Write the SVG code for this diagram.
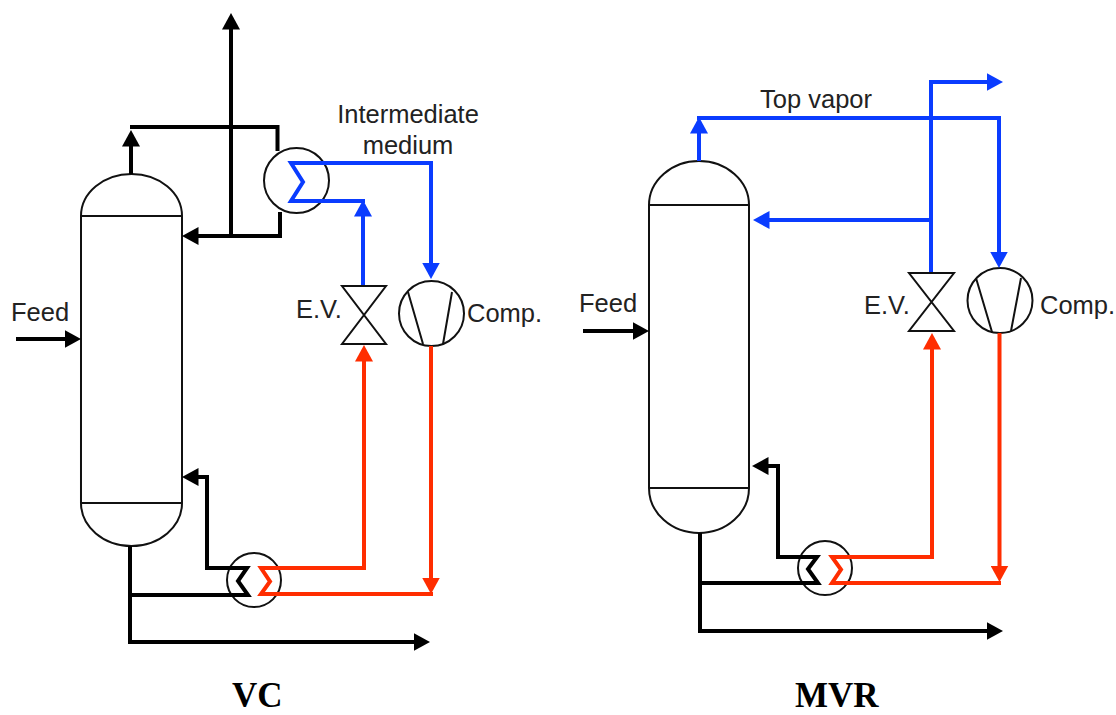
<svg xmlns="http://www.w3.org/2000/svg" width="1116" height="715" viewBox="0 0 1116 715">
<style>
.eq{fill:none;stroke:#111;stroke-width:2}
.p{fill:none;stroke-width:4;stroke-linejoin:miter;stroke-miterlimit:8;stroke-linecap:butt}
.k{stroke:#000}.b{stroke:#0a3cff}.r{stroke:#ff2d00}
.ka{marker-end:url(#ah-k)}.ba{marker-end:url(#ah-b)}.ra{marker-end:url(#ah-r)}
text{font-family:"Liberation Sans",Arial,sans-serif;font-size:25.500px;fill:#222}
.t{font-family:"Liberation Serif","Times New Roman",serif;font-size:35px;font-weight:bold;fill:#000}
</style>
<defs>
<marker id="ah-k" markerUnits="userSpaceOnUse" markerWidth="18" markerHeight="18" viewBox="0 0 18 18" refX="0.5" refY="9" orient="auto"><path d="M0 0L16.500 9L0 18z" fill="#000"/></marker>
<marker id="ah-b" markerUnits="userSpaceOnUse" markerWidth="18" markerHeight="18" viewBox="0 0 18 18" refX="0.5" refY="9" orient="auto"><path d="M0 0L16.500 9L0 18z" fill="#0a3cff"/></marker>
<marker id="ah-r" markerUnits="userSpaceOnUse" markerWidth="18" markerHeight="18" viewBox="0 0 18 18" refX="0.5" refY="9" orient="auto"><path d="M0 0L16.500 9L0 18z" fill="#ff2d00"/></marker>
</defs>
<rect width="1116" height="715" fill="#fff"/>

<g id="vc-column"><path class="eq" d="M81 216A50.500 42 0 0 1 182 216V503A50.500 43 0 0 1 81 503ZM81 216H182M81 503H182"/></g>
<g id="vc-condenser"><circle class="eq" cx="296.500" cy="180.500" r="32.500"/></g>
<g id="vc-reboiler"><circle class="eq" cx="254" cy="580" r="27"/></g>
<g id="vc-valve"><path class="eq" d="M342 286H386L342 344H386Z"/><text x="296" y="318">E.V.</text></g>
<g id="vc-compressor"><circle class="eq" cx="431.500" cy="313.500" r="32.500"/><path class="eq" d="M408 292L423 344M452 292L443 344"/><text x="467" y="322">Comp.</text></g>
<g id="vc-feed"><text x="11" y="321">Feed</text></g>
<g id="vc-medium"><text x="408" y="123" text-anchor="middle">Intermediate</text><text x="408" y="154" text-anchor="middle">medium</text></g>
<g id="vc-title"><text class="t" x="232" y="707">VC</text></g>

<g id="mvr-column"><path class="eq" d="M649 205A50 44 0 0 1 749 205V488A50 45 0 0 1 649 488ZM649 205H749M649 488H749"/></g>
<g id="mvr-reboiler"><circle class="eq" cx="825" cy="568" r="27"/></g>
<g id="mvr-valve"><path class="eq" d="M909 273H954L909 331H954Z"/><text x="864" y="314">E.V.</text></g>
<g id="mvr-compressor"><circle class="eq" cx="1000" cy="300.500" r="32.500"/><path class="eq" d="M976 278L992 332M1021 278L1011 331"/><text x="1040" y="314">Comp.</text></g>
<g id="mvr-feed"><text x="579" y="312">Feed</text></g>
<g id="mvr-topvapor"><text x="760" y="108">Top vapor</text></g>
<g id="mvr-title"><text class="t" x="795" y="707">MVR</text></g>

<g id="connectors">
<path class="p k ka" d="M131 174V146"/>
<path class="p k" d="M130 127H277.500V151"/>
<path class="p k ka" d="M280 212V236H198"/>
<path class="p k ka" d="M231 236V29"/>
<path class="p b" d="M433 163H291L303 182L291 201H365"/>
<path class="p b ba" d="M431 163V263"/>
<path class="p b ba" d="M363 285V216"/>
<path class="p r" d="M366 568H261L270 581.500L261 594H433"/>
<path class="p r ra" d="M364 570V361"/>
<path class="p r ra" d="M431 346V578"/>
<path class="p k ka" d="M205 568H207V477H198"/>
<path class="p k" d="M205 568H247L238 581L248 595H131"/>
<path class="p k" d="M130 546V644"/>
<path class="p k ka" d="M128 642H414"/>
<path class="p k ka" d="M16 339H65"/>

<path class="p b ba" d="M699 161V133"/>
<path class="p b ba" d="M697 118H999V252"/>
<path class="p b ba" d="M931 272V82H987"/>
<path class="p b ba" d="M931 220H769"/>
<path class="p r" d="M934 557H832L841 569.500L832 583H1001"/>
<path class="p r ra" d="M932 559V349"/>
<path class="p r ra" d="M999.500 333V566"/>
<path class="p k ka" d="M776 557H778V466H768"/>
<path class="p k" d="M776 557H817L808 569L818 583H700"/>
<path class="p k" d="M700 533V633"/>
<path class="p k ka" d="M698 631H987"/>
<path class="p k ka" d="M583 331H633"/>
</g>
</svg>
